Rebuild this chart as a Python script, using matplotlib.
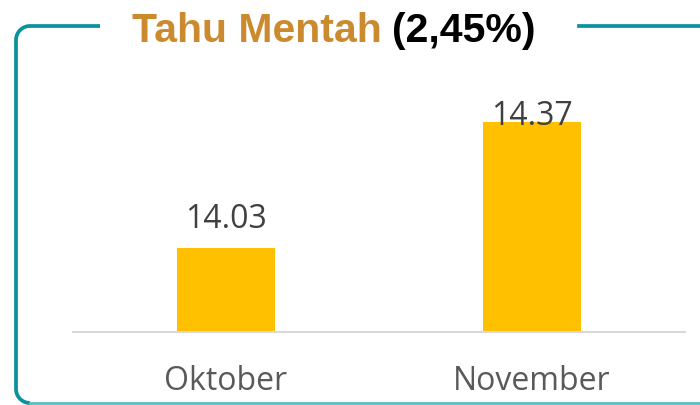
import numpy as np
import matplotlib.pyplot as plt

# Data
months = ['Oktober', 'November']
prices = [14.03, 14.37]
title_main = 'Tahu Mentah'
title_pct = '(2,45%)'

fig = plt.figure(figsize=(7, 4.05), dpi=100)

def px(x, y):
    # pixel (from top-left) -> figure fraction
    return x / 700, (405 - y) / 405

# plot area: x 73..685, y 60..332 from top
ax = fig.add_axes([73 / 700, (405 - 332) / 405, 612 / 700, 272 / 405])
ax.bar(range(len(months)), prices, width=0.317, color='#FFC000', zorder=2)
ax.set_xlim(-0.5, 1.5)
ymin, ymax = 13.803, 14.537
ax.set_ylim(ymin, ymax)

# data labels, pushed down when they hit the top of the chart
for i, v in enumerate(prices):
    ax.text(i, min(v + 0.054, 14.362), '%.2f' % v, ha='center', va='baseline',
            fontsize=23, color='#404040', family='Open Sans')

ax.set_xticks(range(len(months)))
ax.set_xticklabels(months, fontsize=23, color='#595959', family='Open Sans')
ax.tick_params(axis='x', length=0, pad=24)
ax.set_yticks([])
for s in ['top', 'right', 'left']:
    ax.spines[s].set_visible(False)
ax.spines['bottom'].set_color('#D9D9D9')
ax.spines['bottom'].set_linewidth(1.5)

# frame: left side with rounded corners, top segments, bottom line
teal = '#0B929E'
r = 14
x0, ytop, ybot = 16, 26, 403
t1 = np.linspace(np.pi, np.pi / 2, 20)
top_corner = [(x0 + r + r * np.cos(a), ytop + r - r * np.sin(a)) for a in t1]
t2 = np.linspace(np.pi, 3 * np.pi / 2, 20)
bot_corner = [(x0 + r + r * np.cos(a), ybot - r - r * np.sin(a)) for a in t2]
left = list(reversed(bot_corner)) + top_corner + [(100, ytop)]
fx = [px(x, y)[0] for x, y in left]
fy = [px(x, y)[1] for x, y in left]
fig.add_artist(plt.Line2D(fx, fy, color=teal, lw=2.7, solid_capstyle='butt',
                          transform=fig.transFigure))
fig.add_artist(plt.Line2D([579 / 700, 1], [px(0, ytop)[1]] * 2, color=teal, lw=2.7,
                          transform=fig.transFigure))
fig.add_artist(plt.Line2D([px(x0 + r, 0)[0], 1], [px(0, ybot)[1]] * 2, color='#5BBFC8',
                          lw=2.0, transform=fig.transFigure))

# title
tt = fig.text(px(132, 0)[0], px(0, 42)[1], title_main, fontsize=29.5, fontweight='bold',
              color='#CC8A2E', family='Liberation Sans', va='baseline', ha='left')
fig.canvas.draw()
bb = tt.get_window_extent()
fig.text((bb.x1 + 10) / 700, px(0, 42)[1], title_pct, fontsize=29.5, fontweight='bold',
         color='black', family='Liberation Sans', va='baseline', ha='left')

fig.savefig('out.png', dpi=100)
